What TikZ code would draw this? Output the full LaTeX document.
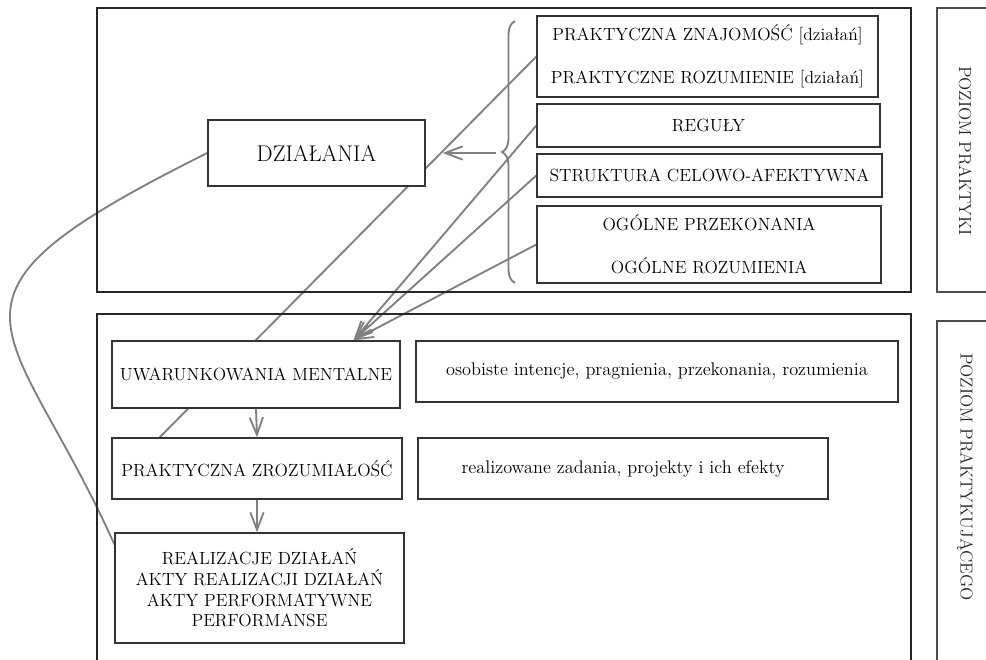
\documentclass[tikz,border=0pt]{standalone}
\usepackage{fontspec}
\usetikzlibrary{arrows.meta,calc,decorations.pathreplacing}
\pgfdeclarelayer{bg}
\pgfsetlayers{bg,main}
\newcommand\bnode[6]{\node[box,minimum width={(#4-#2)*0.75pt},minimum height={(#5-#3)*0.75pt},#6] (#1) at ({(#2+#4)/2},{(#3+#5)/2})}
\begin{document}
\begin{tikzpicture}[x=0.75pt,y=-0.75pt,
  outer/.style={draw=black!85, line width=2.2pt},
  box/.style={draw=black!80, line width=1pt, fill=white, inner sep=0pt, align=center, font=\fontsize{13.2}{15.5}\selectfont, text=black},
  lower/.style={font=\fontsize{13.7}{16}\selectfont},
  conn/.style={draw=black!50, line width=1.4pt},
  arr/.style={conn, -{Straight Barb[length=13pt,width=10pt]}},
  side/.style={draw=black!70, line width=0.8pt},
  sidelabel/.style={rotate=-90, font=\fontsize{13}{15}\selectfont, text=black!85}
]
\clip (0,0) rectangle (986,660);
% outer frames
\draw[outer] (97,8) rectangle (911,292);
\draw[outer] (97,672) -- (97,314) -- (911,314) -- (911,672);
\draw[side] (1000,8) -- (937,8) -- (937,292) -- (1000,292);
\draw[side] (1000,321) -- (937,321) -- (937,672);
\node[sidelabel] (lab1) at (965,151) {POZIOM PRAKTYKI};
\node[sidelabel] (lab2) at (965,477) {POZIOM PRAKTYKUJĄCEGO};
% boxes
\bnode{dz}{208}{120}{425}{186}{font=\fontsize{17}{20}\selectfont} {DZIAŁANIA};
\bnode{pz}{537}{16}{878}{97}{} {PRAKTYCZNA ZNAJOMOŚĆ [działań]\\[16.5pt]PRAKTYCZNE ROZUMIENIE [działań]};
\bnode{reg}{537}{104}{880}{147}{} {REGUŁY};
\bnode{str}{537}{154}{882}{197}{} {STRUKTURA CELOWO-AFEKTYWNA};
\bnode{og}{537}{206}{881}{283}{} {OGÓLNE PRZEKONANIA\\[17pt]OGÓLNE ROZUMIENIA};
\bnode{uw}{112}{341}{400}{408}{} {UWARUNKOWANIA MENTALNE};
\bnode{os}{416}{341}{898}{402}{lower} {osobiste intencje, pragnienia, przekonania, rozumienia};
\bnode{pzr}{112}{438}{402}{499}{} {PRAKTYCZNA ZROZUMIAŁOŚĆ};
\bnode{rz}{418}{438}{828}{499}{lower} {realizowane zadania, projekty i ich efekty};
\bnode{real}{115}{533}{404}{643}{} {REALIZACJE DZIAŁAŃ\\AKTY REALIZACJI DZIAŁAŃ\\AKTY PERFORMATYWNE\\PERFORMANSE};
% brace
\draw[conn, decorate, decoration={brace, amplitude=9.75pt}] (515,283) -- (515,21);
\coordinate (bt) at (496,153);
% connectors
\begin{pgfonlayer}{bg}
\draw[conn] (pz.west) -- ($(pzr.north west)!0.166!(pzr.north east)$);
\coordinate (conv) at ($(uw.north west)!0.837!(uw.north east)$);
\draw[arr] (reg.west) -- (conv);
\draw[arr] (str.west) -- (conv);
\draw[arr] (og.west) -- (conv);
\draw[conn] (dz.west) .. controls (-92,302) and (11.5,315) .. ([yshift=-9pt]real.north west);
\end{pgfonlayer}
\draw[arr, shorten >=12.75pt] (bt) -- (dz.east);
\draw[arr] (uw.south) -- (pzr.north);
\draw[arr] (pzr.south) -- (pzr.south |- real.north);
\end{tikzpicture}
\end{document}
